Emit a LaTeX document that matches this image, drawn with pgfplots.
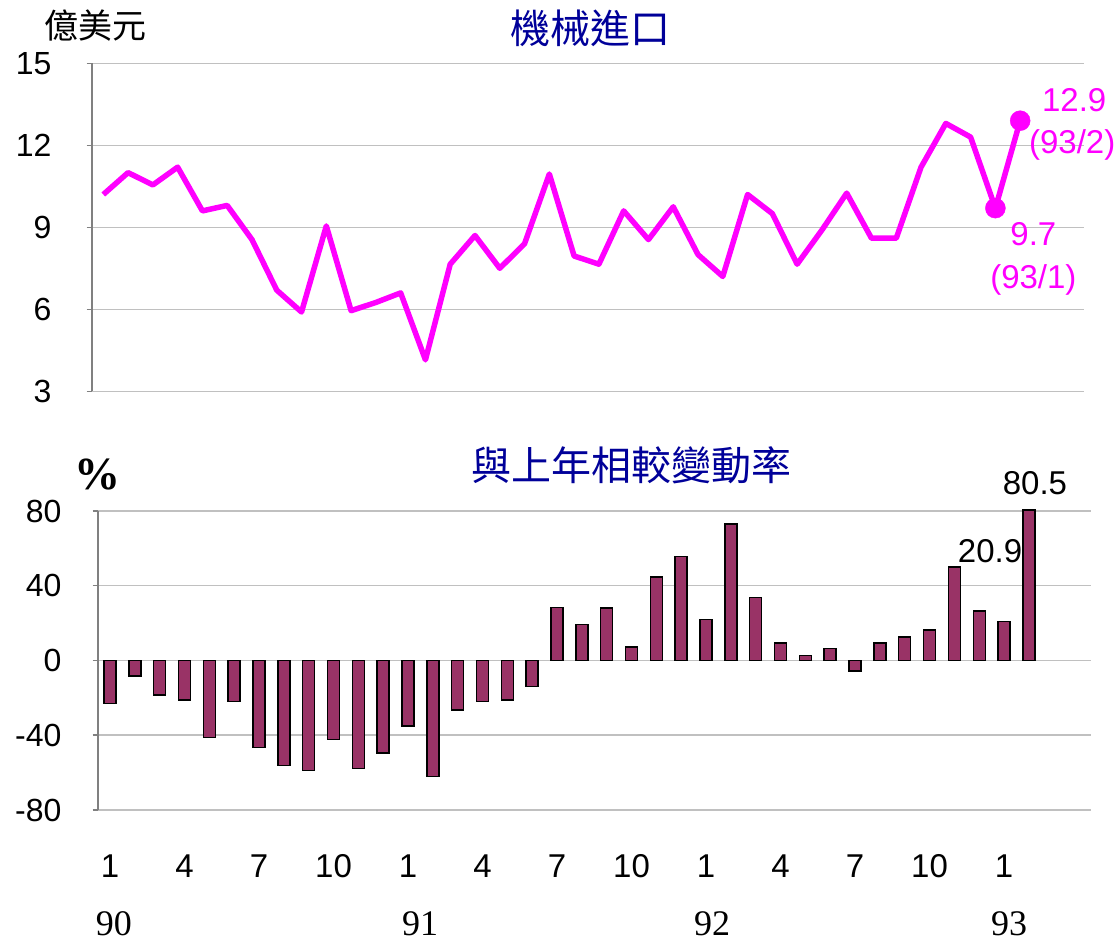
\documentclass[border=0pt]{standalone}
\usepackage{fontspec}
\usepackage{pgfplots}
\pgfplotsset{compat=1.18}
\setmainfont{Liberation Sans}
\newfontfamily\cjk{Noto Sans CJK TC}
\newfontfamily\serif{Liberation Serif}
\definecolor{lineM}{RGB}{255,0,255}
\definecolor{barc}{RGB}{153,51,102}
\definecolor{titleblue}{RGB}{0,0,153}
\definecolor{gridc}{RGB}{192,192,192}
\definecolor{axisc}{RGB}{128,128,128}
\newcommand{\fs}[1]{\fontsize{#1}{#1}\selectfont}

\pgfplotstableread{
x y
0 10.2
1 11.0
2 10.55
3 11.2
4 9.6
5 9.8
6 8.55
7 6.7
8 5.9
9 9.05
10 5.95
11 6.25
12 6.6
13 4.15
14 7.65
15 8.7
16 7.5
17 8.4
18 10.95
19 7.95
20 7.65
21 9.6
22 8.55
23 9.75
24 8.0
25 7.2
26 10.2
27 9.5
28 7.65
29 8.9
30 10.25
31 8.6
32 8.6
33 11.2
34 12.8
35 12.3
36 9.7
37 12.9
}\imports

\pgfplotstableread{
x y
0 -22.9
1 -8.2
2 -18.4
3 -21.1
4 -41.2
5 -22.0
6 -46.6
7 -56.1
8 -58.8
9 -42.2
10 -57.7
11 -49.5
12 -35.0
13 -62.1
14 -26.6
15 -22.0
16 -21.1
17 -13.8
18 28.4
19 19.3
20 28.2
21 7.1
22 44.8
23 55.7
24 22.0
25 73.0
26 33.7
27 9.3
28 2.7
29 6.4
30 -5.6
31 9.3
32 12.6
33 16.4
34 50.1
35 26.4
36 20.9
37 80.5
}\growth

\begin{document}
\begin{tikzpicture}[x=1pt,y=1pt]
\path[use as bounding box] (0,0) rectangle (1120,943);
\node[font=\cjk\fs{34}] at (95,917) {億美元};
\node[font=\cjk\fs{40}, text=titleblue] at (590,915) {機械進口};
\node[font=\cjk\fs{40}, text=titleblue] at (631,478) {與上年相較變動率};
\node[font=\serif\bfseries\fs{46}] at (97,468.5) {\%};

\begin{axis}[
  at={(91.7pt,551.7pt)}, anchor=south west, scale only axis,
  width=991.9pt, height=328pt,
  xmin=-0.468, xmax=39.56, ymin=3, ymax=15,
  axis lines*=left,
  x axis line style={gridc, line width=1.5pt},
  y axis line style={axisc, line width=2pt},
  xtick=\empty,
  ytick={3,6,9,12,15},
  ymajorgrids, major grid style={gridc, line width=1.5pt},
  ytick style={axisc, line width=1.5pt}, tick align=outside, major tick length=5pt,
  yticklabel style={font=\fs{32}, anchor=east, inner sep=0pt, xshift=-35pt},
  /pgf/number format/assume math mode=true,
  clip=false,
]
\addplot[lineM, line width=5.5pt, line join=round] table[x=x,y=y] {\imports};
\addplot[only marks, mark=*, mark size=10pt, lineM, mark options={draw=lineM, fill=lineM}] coordinates {(36,9.7) (37,12.9)};
\node[font=\fs{33}, text=lineM] at (axis cs:37,12.9) [xshift=54pt, yshift=21pt] {12.9};
\node[font=\fs{33}, text=lineM] at (axis cs:37,12.9) [xshift=52pt, yshift=-24pt] {(93/2)};
\node[font=\fs{33}, text=lineM] at (axis cs:36,9.7) [xshift=38pt, yshift=-26pt] {9.7};
\node[font=\fs{33}, text=lineM] at (axis cs:36,9.7) [xshift=38pt, yshift=-72pt] {(93/1)};
\end{axis}

\begin{axis}[
  at={(97.7pt,133pt)}, anchor=south west, scale only axis,
  width=993.3pt, height=299pt,
  xmin=-0.495, xmax=39.5, ymin=-80, ymax=80,
  axis lines*=left,
  x axis line style={gridc, line width=1.5pt},
  y axis line style={axisc, line width=2pt},
  xtick={0,3,...,36},
  xticklabels={1,4,7,10,1,4,7,10,1,4,7,10,1},
  xtick style={draw=none},
  xticklabel style={font=\fs{33}, anchor=base, inner sep=0pt, yshift=-62pt},
  ytick={-80,-40,0,40,80},
  ymajorgrids, major grid style={gridc, line width=1.5pt},
  ytick style={axisc, line width=1.5pt}, tick align=outside, major tick length=5pt,
  yticklabel style={font=\fs{32}, anchor=east, inner sep=0pt, xshift=-31pt},
  /pgf/number format/assume math mode=true,
  clip=false,
  ybar, bar width=12pt,
]
\addplot[fill=barc, draw=black, line width=1.5pt] table[x=x,y=y] {\growth};
\node[font=\fs{33}] at (axis cs:37,80.5) [xshift=6pt, yshift=27pt] {80.5};
\node[font=\fs{33}] at (axis cs:36,20.9) [xshift=-14pt, yshift=70pt] {20.9};
\node[font=\serif\fs{36}, inner sep=1pt] at (axis cs:0,-80) [xshift=4pt, yshift=-114pt] {90};
\node[font=\serif\fs{36}, inner sep=1pt] at (axis cs:12,-80) [xshift=12pt, yshift=-114pt] {91};
\node[font=\serif\fs{36}, inner sep=1pt] at (axis cs:24,-80) [xshift=6pt, yshift=-114pt] {92};
\node[font=\serif\fs{36}, inner sep=1pt] at (axis cs:36,-80) [xshift=5pt, yshift=-114pt] {93};
\end{axis}
\end{tikzpicture}
\end{document}
